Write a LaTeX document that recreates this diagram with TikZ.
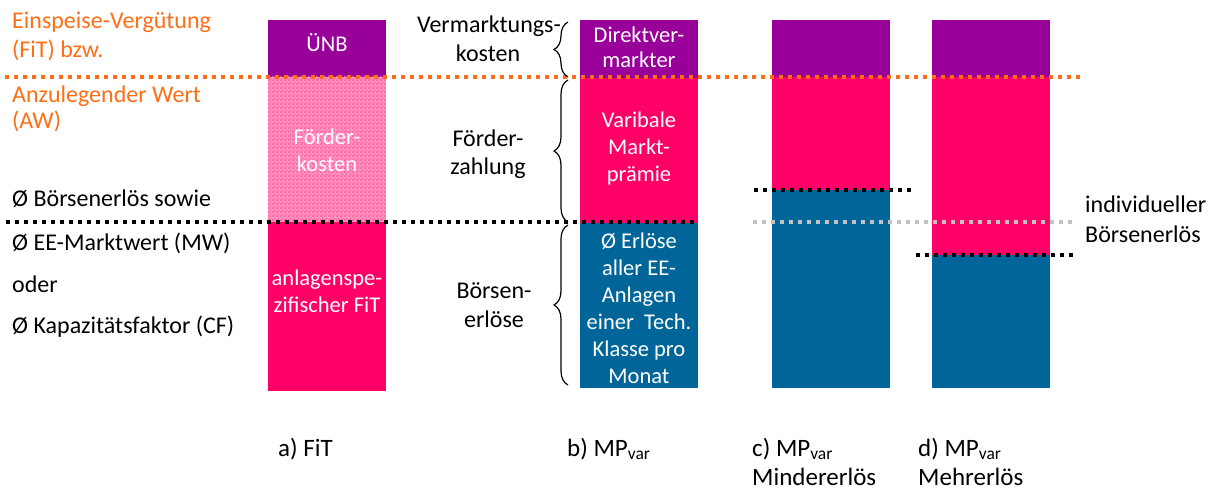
\documentclass[tikz,border=0pt]{standalone}
\usepackage{fontspec}
\setmainfont{Carlito}
\usetikzlibrary{decorations.pathreplacing,patterns}
\definecolor{umag}{RGB}{153,0,153}
\definecolor{upink}{RGB}{255,0,102}
\definecolor{ublue}{RGB}{0,102,153}
\definecolor{uorange}{RGB}{255,110,20}
\definecolor{ugrey}{RGB}{195,195,195}
% fine checkerboard for the support-cost block
\pgfdeclarepatternformonly{finechecker}{\pgfpointorigin}{\pgfqpoint{4pt}{4pt}}{\pgfqpoint{4pt}{4pt}}{%
  \pgfpathrectangle{\pgfpointorigin}{\pgfqpoint{2pt}{2pt}}%
  \pgfpathrectangle{\pgfqpoint{2pt}{2pt}}{\pgfqpoint{2pt}{2pt}}%
  \pgfusepath{fill}}
\begin{document}
\begin{tikzpicture}[x=1pt,y=-1pt,
  font=\fontsize{24}{28}\selectfont,
  seg/.style={inner sep=0, outer sep=0, anchor=north west, minimum width=118pt, draw=none},
  txt/.style={inner sep=0, anchor=base},
  ltxt/.style={inner sep=0, anchor=base west},
  wtxt/.style={txt, text=white, font=\fontsize{22.5}{27}\selectfont},
  captxt/.style={ltxt, font=\fontsize{25}{29}\selectfont},
  sepline/.style={line width=4pt, dash pattern=on 4pt off 5pt},
  brc/.style={decorate, decoration={brace, amplitude=14pt}, line width=1.2pt},
]
\useasboundingbox (0,0) rectangle (1215,489);

% --- bar a) FiT
\node[seg, fill=umag, minimum height=57pt] (aTop) at (268,20) {};
\node[seg, minimum height=145pt, preaction={fill=upink!42!white},
      pattern=finechecker, pattern color=upink!62!white] (aMid) at (268,77) {};
\node[seg, fill=upink, minimum height=169pt] (aBot) at (268,222) {};

% --- bar b) MP var
\node[seg, fill=umag, minimum height=58pt] (bTop) at (580,20) {};
\node[seg, fill=upink, minimum height=145pt] (bMid) at (580,78) {};
\node[seg, fill=ublue, minimum height=165pt] (bBot) at (580,223) {};

% --- bar c) lower revenue
\node[seg, fill=umag, minimum height=57pt] (cTop) at (772,20) {};
\node[seg, fill=upink, minimum height=113pt] (cMid) at (772,77) {};
\node[seg, fill=ublue, minimum height=198pt] (cBot) at (772,190) {};

% --- bar d) higher revenue
\node[seg, fill=umag, minimum height=57pt] (dTop) at (932,20) {};
\node[seg, fill=upink, minimum height=178pt] (dMid) at (932,77) {};
\node[seg, fill=ublue, minimum height=133pt] (dBot) at (932,255) {};

% --- level lines
\coordinate (oL) at (5,77);   \coordinate (oR) at (1085,77);
\coordinate (kL) at (6,222);  \coordinate (kR) at (698,222);
\coordinate (cL) at (754,190); \coordinate (cR) at (913,190);
\coordinate (gL) at (753,222); \coordinate (gR) at (1073,222);
\coordinate (dL) at (916,255); \coordinate (dR) at (1073,255);
\draw[sepline, uorange] (oL) -- (oR);
\draw[sepline, black] (kL) -- (kR);
\draw[sepline, black] (cL) -- (cR);
\draw[sepline, ugrey] (gL) -- (gR);
\draw[sepline, black] (dL) -- (dR);

% --- braces
\coordinate (v1t) at (568,22);  \coordinate (v1b) at (568,77);
\coordinate (v2t) at (568,80);  \coordinate (v2b) at (568,222);
\coordinate (v3t) at (568,225); \coordinate (v3b) at (568,385);
\draw[brc] (v1b) -- (v1t);
\draw[brc] (v2b) -- (v2t);
\draw[brc] (v3b) -- (v3t);

% --- left legend
\node[ltxt, text=uorange] (t1) at (12,29) {Einspeise-Vergütung};
\node[ltxt, text=uorange] (t2) at (12,58) {(FiT) bzw.};
\node[ltxt, text=uorange] (t3) at (12,103) {Anzulegender Wert};
\node[ltxt, text=uorange] (t4) at (12,129) {(AW)};
\node[ltxt] (t5) at (12,207) {Ø Börsenerlös sowie};
\node[ltxt] (t6) at (12,250) {Ø EE-Marktwert (MW)};
\node[ltxt] (t7) at (12,292) {oder};
\node[ltxt] (t8) at (12,333) {Ø Kapazitätsfaktor (CF)};

% --- texts in bar a
\node[wtxt] (a1) at (327,52) {ÜNB};
\node[wtxt] (a2) at (327,145) {Förder-};
\node[wtxt] (a3) at (327,172) {kosten};
\node[wtxt] (a4) at (327,285) {anlagenspe-};
\node[wtxt] (a5) at (327,312) {zifischer FiT};

% --- brace labels
\node[txt] (l1) at (489,33) {Vermarktungs-};
\node[txt] (l2) at (488,62) {kosten};
\node[txt] (l3) at (488,147) {Förder-};
\node[txt] (l4) at (488,175) {zahlung};
\node[txt] (l5) at (494,298) {Börsen-};
\node[txt] (l6) at (494,327) {erlöse};

% --- texts in bar b
\node[wtxt] (b1) at (639,43) {Direktver-};
\node[wtxt] (b2) at (639,68) {markter};
\node[wtxt] (b3) at (639,128) {Varibale};
\node[wtxt] (b4) at (639,155) {Markt-};
\node[wtxt] (b5) at (639,182) {prämie};
\node[wtxt] (b6) at (639,248) {Ø Erlöse};
\node[wtxt] (b7) at (639,275) {aller EE-};
\node[wtxt] (b8) at (639,302) {Anlagen};
\node[wtxt] (b9) at (639,329) {einer~ Tech.};
\node[wtxt] (b10) at (639,356) {Klasse pro};
\node[wtxt] (b11) at (639,383) {Monat};

% --- right label
\node[ltxt] (r1) at (1085,212) {individueller};
\node[ltxt] (r2) at (1085,242) {Börsenerlös};

% --- captions
\node[captxt] (ca) at (278,456) {a) FiT};
\node[captxt] (cb) at (567,456) {b) MP\textsubscript{var}};
\node[captxt] (cc1) at (752,456) {c) MP\textsubscript{var}};
\node[captxt] (cc2) at (752,485) {Mindererlös};
\node[captxt] (cd1) at (918,456) {d) MP\textsubscript{var}};
\node[captxt] (cd2) at (918,485) {Mehrerlös};
\end{tikzpicture}
\end{document}
